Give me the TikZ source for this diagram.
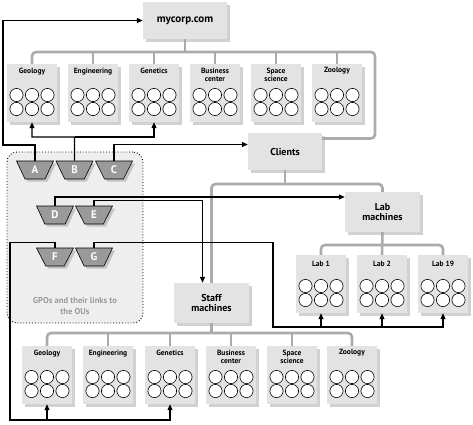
\documentclass[tikz,border=0pt]{standalone}
\usepackage{fontspec}
\setmainfont{PT Sans}
\usetikzlibrary{shapes.geometric}
\usetikzlibrary{shadows}
\usetikzlibrary{arrows.meta}
\definecolor{boxgray}{HTML}{E3E3E3}
\definecolor{treegray}{HTML}{ABABAB}
\definecolor{gpogray}{HTML}{9A9A9A}
\definecolor{areagray}{HTML}{EEEEEE}
\definecolor{textgray}{HTML}{9A9A9A}

\begin{document}
\begin{tikzpicture}[x=1pt,y=-1pt]
      \tikzstyle shadowed=[drop shadow={shadow xshift=2.5pt,shadow yshift=-2.5pt,fill=black,opacity=0.18}]
      \tikzstyle bigbox=[shadowed,fill=boxgray,inner sep=0pt,minimum width=75pt,minimum height=40pt,align=center,font=\bfseries\fontsize{10}{10.5}\selectfont]
      \tikzstyle oubox=[shadowed,fill=boxgray,inner sep=0pt,minimum width=50pt,minimum height=58pt]
      \tikzstyle outitle=[anchor=north,inner sep=0pt,align=center,font=\bfseries\fontsize{7.5}{8.5}\selectfont]
      \tikzstyle disk=[fill=white,draw=black,line width=0.6pt]
      \tikzstyle tree=[treegray,line width=2.6pt,rounded corners=4pt]
      \tikzstyle link=[line width=1.2pt,-{Triangle[length=6pt,width=5pt]}]
      \tikzstyle gpo=[shadowed,trapezium,trapezium left angle=110,trapezium right angle=110,trapezium stretches=true,minimum width=37pt,minimum height=18pt,inner sep=0pt,fill=gpogray,draw=black,line width=0.6pt,text=white,font=\bfseries\fontsize{11}{11}\selectfont]

      \useasboundingbox (0,0) rectangle (473,424);
      \node [fill=areagray,draw=black,dotted,line width=0.9pt,rounded corners=10pt,minimum width=136pt,minimum height=171pt] (gpoarea) at (75,237.5) {};
      \node [text=textgray,align=center,font=\bfseries\fontsize{8.6}{11.5}\selectfont] (gpolabel) at (75,306) {GPOs and their links to\\the OUs};

      \node [bigbox,minimum width=84pt,minimum height=37pt,font=\bfseries\fontsize{11}{11}\selectfont] (corp) at (185,20.5) {mycorp.com};
      \node [bigbox,minimum width=74pt,minimum height=37pt] (clients) at (285,151.5) {Clients};
      \node [bigbox] (lab) at (382.5,212) {Lab\\machines};
      \node [bigbox] (staff) at (211.5,303) {Staff\\machines};

      \foreach \name/\x/\title in {geo/32/Geology,eng/93/Engineering,gen/154/Genetics,bus/215/{Business\\center},spa/276/{Space\\science},zoo/337/Zoology} {
        \node [oubox] (top-\name) at (\x,93) {};
        \node [outitle] (top-\name-t) at (\x,67.5) {\title};
        \foreach \dx in {-15.5,0,15.5} \foreach \y in {95,109} \draw [disk] (\x+\dx,\y) circle [radius=6.6pt];
      }
      \foreach \name/\x/\title in {geo/47/Geology,eng/108/Engineering,gen/170/Genetics,bus/231/{Business\\center},spa/292/{Space\\science},zoo/352/Zoology} {
        \node [oubox] (bot-\name) at (\x,375) {};
        \node [outitle] (bot-\name-t) at (\x,349.5) {\title};
        \foreach \dx in {-15.5,0,15.5} \foreach \y in {377,391} \draw [disk] (\x+\dx,\y) circle [radius=6.6pt];
      }
      \foreach \name/\x/\title in {lab1/321/Lab 1,lab2/382/Lab 2,lab19/443/Lab 19} {
        \node [oubox] (\name) at (\x,284) {};
        \node [outitle] (\name-t) at (\x,261) {\title};
        \foreach \dx in {-15.5,0,15.5} \foreach \y in {286,300} \draw [disk] (\x+\dx,\y) circle [radius=6.6pt];
      }

      \node [gpo] (gpoA) at (35,170) {A};
      \node [gpo] (gpoB) at (74.5,170) {B};
      \node [gpo] (gpoC) at (114,170) {C};
      \node [gpo] (gpoD) at (55,215) {D};
      \node [gpo] (gpoE) at (94,215) {E};
      \node [gpo] (gpoF) at (55,257) {F};
      \node [gpo] (gpoG) at (94,257) {G};

      \coordinate (topbus) at (0,52);
      \coordinate (topright) at (375,52);
      \coordinate (clbus) at (300,184);
      \coordinate (labbus) at (0,245);
      \coordinate (botbus) at (0,333);
      \draw [tree] (top-geo.north) |- (topright) |- ([yshift=13pt]clients.east);
      \foreach \name in {eng,gen,bus,spa,zoo} \draw [tree] (top-\name.north) -- (top-\name.north |- topbus);
      \draw [tree] (corp.south) -- (corp.south |- topbus);
      \draw [tree] (staff.north) |- (clbus) -| (lab.north);
      \draw [tree] (clients.south) -- (clients.south |- clbus);
      \draw [tree] (lab1.north) |- (lab19.north |- labbus) -- (lab19.north);
      \draw [tree] (lab.south) -- (lab2.north);
      \draw [tree] (bot-geo.north) |- (bot-zoo.north |- botbus) -- (bot-zoo.north);
      \foreach \name in {eng,gen,bus,spa} \draw [tree] (bot-\name.north) -- (bot-\name.north |- botbus);
      \draw [tree] (staff.south) -- (staff.south |- botbus);

      \coordinate (aturn) at (3,145);
      \coordinate (bturn) at (74.5,137);
      \coordinate (fturn) at (10,420);
      \coordinate (gturn) at (273,327);
      \draw [link] (gpoA.north) |- (aturn) |- (corp.west);
      \draw [link] (gpoB.north) -- (bturn) -| (top-geo.south);
      \draw [link] (bturn) -| (top-gen.south);
      \draw [link] (gpoC.north) |- ([yshift=7pt]clients.west);
      \draw [link] (gpoD.north) |- ([yshift=15pt]lab.west);
      \draw [link] (gpoE.north) -- ++(0,-5) -| ([xshift=-9pt]staff.north);
      \draw [link] (gpoF.north) -- ++(0,-5) -| (fturn) -| (bot-gen.south);
      \draw [link] (bot-geo.south |- fturn) -- (bot-geo.south);
      \draw [link] (gpoG.north) -- ++(0,-5) -| (gturn) -| (lab19.south);
      \draw [link] (lab1.south |- gturn) -- (lab1.south);
      \draw [link] (lab2.south |- gturn) -- (lab2.south);
\end{tikzpicture}
\end{document}
